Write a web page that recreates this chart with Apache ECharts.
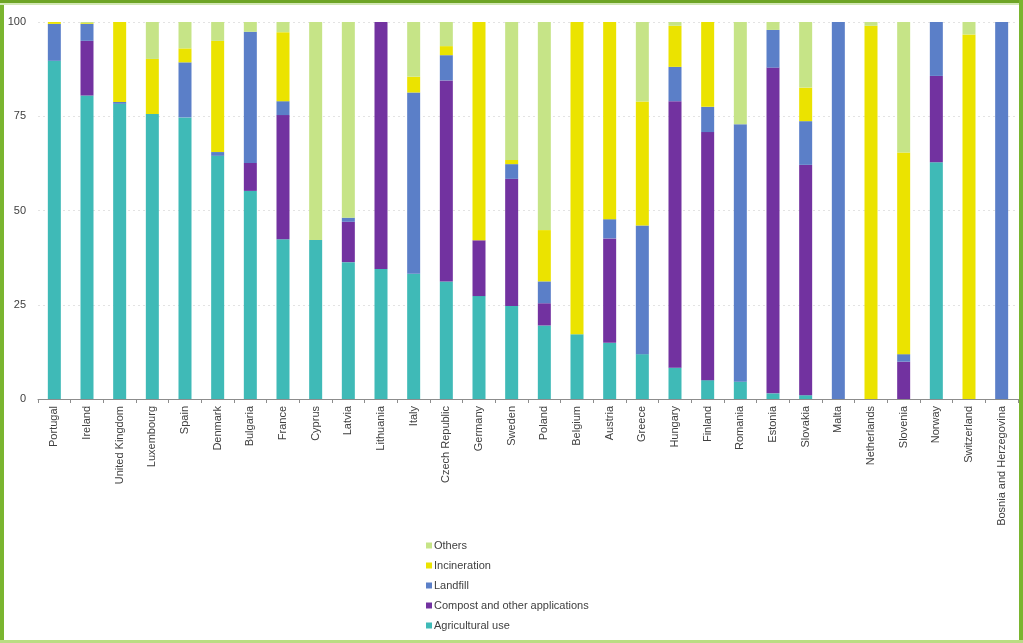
<!DOCTYPE html>
<html>
<head>
<meta charset="utf-8">
<script src="https://cdn.jsdelivr.net/npm/echarts@6/dist/echarts.min.js"></script>
<style>
html,body{margin:0;padding:0;background:#fff;}
#c{width:1023px;height:643px;}
</style>
</head>
<body>
<div id="c"></div>
<script>
const countries = ["Portugal","Ireland","United Kingdom","Luxembourg","Spain","Denmark","Bulgaria","France","Cyprus","Latvia","Lithuania","Italy","Czech Republic","Germany","Sweden","Poland","Belgium","Austria","Greece","Hungary","Finland","Romania","Estonia","Slovakia","Malta","Netherlands","Slovenia","Norway","Switzerland","Bosnia and Herzegovina"];
const agricultural = [89.7,80.5,78.3,75.6,74.7,64.5,55.2,42.4,42.2,36.3,34.5,33.2,31.2,27.3,24.7,19.5,17.2,14.9,11.9,8.3,5.0,4.6,1.5,1.0,0,0,0,62.8,0,0];
const compost      = [0,14.5,0,0,0,0,7.4,32.9,0,10.7,65.5,0,53.3,14.8,33.7,5.9,0,27.7,0,70.7,65.8,0,86.4,61.1,0,0,9.9,22.9,0,0];
const landfill     = [9.8,4.5,0.5,0,14.6,1.0,34.8,3.7,0,1.1,0,48.1,6.7,0,3.9,5.8,0,5.1,34.1,9.1,6.7,68.3,10.0,11.6,100,0,2.0,14.3,0,100];
const incineration = [0.5,0.2,21.2,14.6,3.7,29.5,0,18.3,0,0,0,4.2,2.4,57.9,1.1,13.6,82.8,52.3,32.9,10.9,22.5,0,0,8.9,0,99.0,53.5,0,96.7,0];
const others       = [0,0.3,0,9.8,7.0,5.0,2.6,2.7,57.8,51.9,0,14.5,6.4,0,36.6,55.2,0,0,21.1,1.0,0,27.1,2.1,17.4,0,1.0,34.6,0,3.3,0];
const yTicks = [0,25,50,75,100];

const colors = {
  agri:"#3fbab7", compost:"#7232a0", landfill:"#5b7fc8", incin:"#ebe300", others:"#c6e487"
};
const chart = echarts.init(document.getElementById('c'));
function s(name,data,color){
  return {name:name,type:'bar',stack:'t',data:data,barWidth:13,itemStyle:{color:color},emphasis:{disabled:true}};
}
chart.setOption({
  animation:false,
  textStyle:{fontFamily:'Liberation Sans, Arial, sans-serif'},
  grid:{left:38,right:5,top:22,bottom:244,containLabel:false},
  legend:{
    orient:'vertical',left:421,top:535,itemGap:9,itemWidth:6,itemHeight:6,icon:'rect',
    textStyle:{fontSize:11,color:'#404040',fontFamily:'Liberation Sans, Arial, sans-serif',padding:[0,0,0,-3]},
    data:['Others','Incineration','Landfill','Compost and other applications','Agricultural use']
  },
  xAxis:{
    type:'category',data:countries,
    axisLine:{lineStyle:{color:'#8c8c8c'}},
    axisTick:{show:true,length:4,lineStyle:{color:'#8c8c8c'}},
    axisLabel:{rotate:90,interval:0,fontSize:11,color:'#404040',margin:7}
  },
  yAxis:{
    type:'value',min:0,max:100,interval:25,
    axisLine:{show:false},axisTick:{show:false},
    axisLabel:{fontSize:11,color:'#404040',margin:12,
      formatter:function(v){return yTicks.indexOf(v)>=0?String(v):'';}},
    splitLine:{lineStyle:{color:'#e3e3e3',type:[2,3]}}
  },
  series:[
    s('Agricultural use',agricultural,colors.agri),
    s('Compost and other applications',compost,colors.compost),
    s('Landfill',landfill,colors.landfill),
    s('Incineration',incineration,colors.incin),
    s('Others',others,colors.others)
  ],
  graphic:[
    {type:'rect',shape:{x:0,y:0,width:4,height:643},style:{fill:'#7ab52f'},silent:true},
    {type:'rect',shape:{x:0,y:0,width:1023,height:3},style:{fill:'#6ea526'},silent:true},
    {type:'rect',shape:{x:0,y:3,width:1023,height:2},style:{fill:'#d3e8b6'},silent:true},
    {type:'rect',shape:{x:1019,y:0,width:4,height:643},style:{fill:'#7ab52f'},silent:true},
    {type:'rect',shape:{x:0,y:640,width:1023,height:3},style:{fill:'#b9dd83'},silent:true}
  ]
});
</script>
</body>
</html>
